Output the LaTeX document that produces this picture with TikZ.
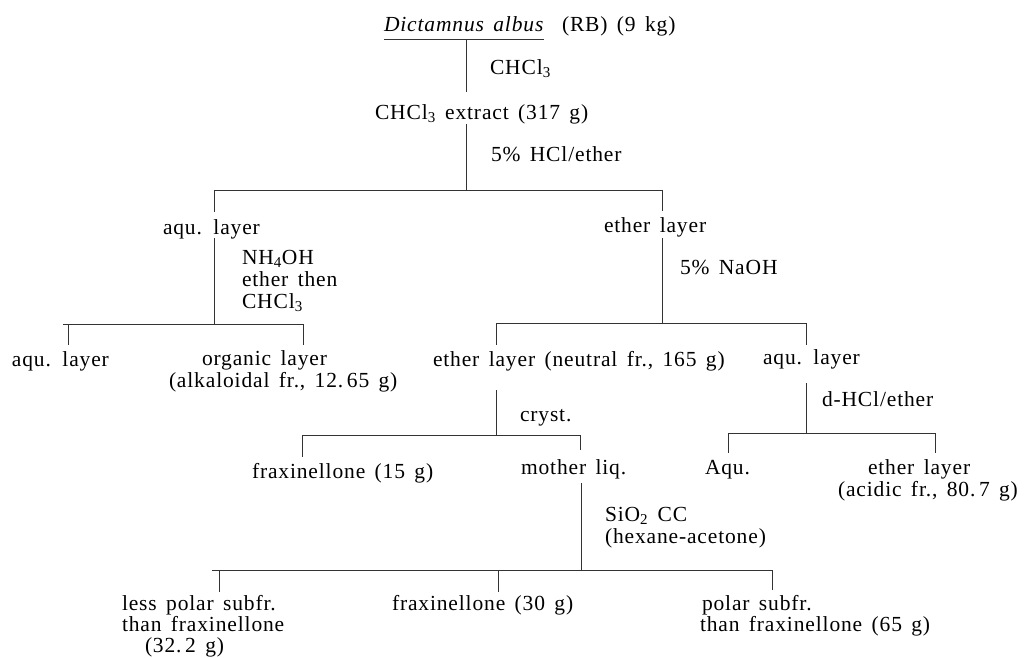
\documentclass[tikz,border=0pt]{standalone}
\usepackage{fontspec}
\setmainfont{Liberation Serif}[LetterSpace=4,WordSpace=1.5]
\newcommand{\sbs}[1]{\textsubscript{#1}}
\begin{document}
\begin{tikzpicture}[x=1pt,y=-1pt,
  every node/.style={inner sep=0pt,outer sep=0pt,font=\fontsize{21.5}{22}\selectfont},
  txt/.style={anchor=base west},
  ln/.style={line width=0.7pt,draw=black!80}]
\useasboundingbox (0,0) rectangle (1029,657);
% ---- text nodes
\node[txt] (dict) at (384,31) {\textit{Dictamnus albus}};
\node[txt] (dictrest) at (562,31) {(RB) (9 kg)};
\node[txt] (r1) at (490,74) {CHCl\sbs{3}};
\node[txt] (extract) at (375,119) {CHCl\sbs{3} extract (317 g)};
\node[txt] (r2) at (491,161) {5\% HCl/ether};
\node[txt] (aquA) at (163,234) {aqu. layer};
\node[txt] (etherA) at (604,232) {ether layer};
\node[txt] (r3a) at (242,264) {NH\sbs{4}OH};
\node[txt] (r3b) at (242,286) {ether then};
\node[txt] (r3c) at (242,308) {CHCl\sbs{3}};
\node[txt] (r4) at (680,274) {5\% NaOH};
\node[txt] (aquB) at (12,366) {aqu. layer};
\node[txt] (org) at (202,365) {organic layer};
\node[txt] (orgb) at (169,387) {(alkaloidal fr., 12.\,65 g)};
\node[txt] (neut) at (433,366) {ether layer (neutral fr., 165 g)};
\node[txt] (aquC) at (763,364) {aqu. layer};
\node[txt] (r5) at (520,421) {cryst.};
\node[txt] (r6) at (822,406) {d-HCl/ether};
\node[txt] (frax1) at (252,478) {fraxinellone (15 g)};
\node[txt] (mother) at (521,474) {mother liq.};
\node[txt] (aquD) at (705,474) {Aqu.};
\node[txt] (acid) at (868,474) {ether layer};
\node[txt] (acidb) at (838,496) {(acidic fr., 80.\,7 g)};
\node[txt] (r7a) at (605,521) {SiO\sbs{2} CC};
\node[txt] (r7b) at (605,543) {(hexane-acetone)};
\node[txt] (less) at (122,610) {less polar subfr.};
\node[txt] (lessb) at (122,631) {than fraxinellone};
\node[txt] (lessc) at (145,652) {(32.\,2 g)};
\node[txt] (frax2) at (392,610) {fraxinellone (30 g)};
\node[txt] (pol) at (702,610) {polar subfr.};
\node[txt] (polb) at (700,631) {than fraxinellone (65 g)};
% ---- underline
\draw[ln] ([yshift=-8]dict.base west) -- ([yshift=-8]dict.base east);
% ---- connector points
\coordinate (a1) at (466,40);  \coordinate (a2) at (466,92);
\coordinate (b1) at (466,124); \coordinate (b2) at (466,190);
\coordinate (b3) at (214,190); \coordinate (b4) at (662,190);
\coordinate (c1) at (214,238); \coordinate (c2) at (214,324);
\coordinate (c3) at (63,324);  \coordinate (c4) at (303,324);
\coordinate (d1) at (662,238); \coordinate (d2) at (662,323);
\coordinate (d3) at (496,323); \coordinate (d4) at (806,323);
\coordinate (e1) at (496,390); \coordinate (e2) at (496,435);
\coordinate (e3) at (302,435); \coordinate (e4) at (580,435);
\coordinate (f1) at (806,383); \coordinate (f2) at (806,433);
\coordinate (f3) at (728,433); \coordinate (f4) at (935,433);
\coordinate (g1) at (581,483); \coordinate (g2) at (581,570);
\coordinate (g3) at (212,570); \coordinate (g4) at (772,570);
% ---- connectors
\draw[ln] (a1) -- (a2);
\draw[ln] (b1) -- (b2);
\draw[ln] (b3) -- (b4);
\draw[ln] (b3) -- ++(0,22);
\draw[ln] (b4) -- ++(0,21);
\draw[ln] (c1) -- (c2);
\draw[ln] (c3) -- (c4);
\draw[ln] (c3) ++(5,0) -- ++(0,21);
\draw[ln] (c4) -- ++(0,21);
\draw[ln] (d1) -- (d2);
\draw[ln] (d3) -- (d4);
\draw[ln] (d3) -- ++(0,22);
\draw[ln] (d4) -- ++(0,22);
\draw[ln] (e1) -- (e2);
\draw[ln] (e3) -- (e4);
\draw[ln] (e3) -- ++(0,22);
\draw[ln] (e4) -- ++(0,15);
\draw[ln] (f1) -- (f2);
\draw[ln] (f3) -- (f4);
\draw[ln] (f3) -- ++(0,20);
\draw[ln] (f4) -- ++(0,20);
\draw[ln] (g1) -- (g2);
\draw[ln] (g3) -- (g4);
\draw[ln] (g3) ++(7,0) -- ++(0,22);
\draw[ln] (498,570) -- ++(0,22);
\draw[ln] (g4) -- ++(0,20);
\end{tikzpicture}
\end{document}
